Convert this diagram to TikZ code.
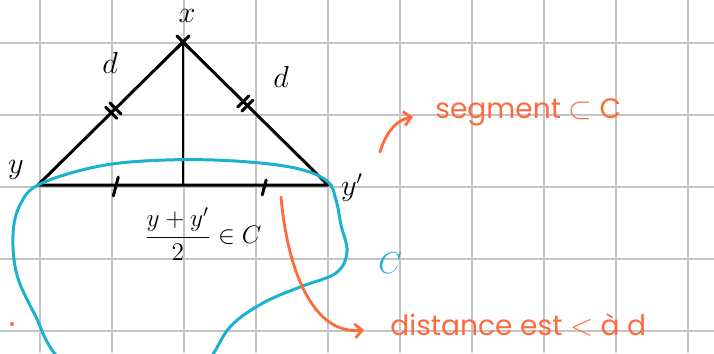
\documentclass[tikz,border=0pt]{standalone}
\usepackage{fontspec}
\setmainfont{Poppins}
\usepackage{xcolor}
\usetikzlibrary{arrows.meta,calc}

\definecolor{gridgray}{HTML}{C4C4C4}
\definecolor{cblue}{HTML}{1BB1CF}
\definecolor{corange}{HTML}{FF6A3D}

\begin{document}
\begin{tikzpicture}[
    x=0.02cm, y=-0.02cm,
    gridline/.style={draw=gridgray, line width=1.1pt},
    pen/.style={line width=1.7pt, line cap=round, line join=round},
    bluepen/.style={draw=cblue, line width=1.7pt},
    redpen/.style={draw=corange, line width=1.6pt, line cap=round},
    arrow/.style={redpen, -{Straight Barb[length=4pt, width=8pt]}},
    lbl/.style={inner sep=0, font=\fontsize{16}{18}\selectfont},
    note/.style={lbl, text=corange, anchor=west}
]
    \clip (0,0) rectangle (714,353);
    \fill[white] (0,0) rectangle (714,353);
    \foreach \gx in {40,112,...,688} \draw[gridline] (\gx,0) -- (\gx,353);
    \foreach \gy in {43,115,...,331} \draw[gridline] (0,\gy) -- (714,\gy);

    % triangle
    \coordinate (x) at (183,42);
    \coordinate (y) at (38,185);
    \coordinate (yp) at (328,185);
    \coordinate (m) at (183,185);
    \draw[pen] (y) -- (x) -- (yp) -- cycle;
    \draw[pen] (x) -- (m);
    \draw[pen] ($(x)+(-6,-6)$) -- ($(x)+(6,6)$);
    \draw[pen] ($(x)+(-6,6)$) -- ($(x)+(6,-6)$);

    % equal marks
    \path (y) -- (x) coordinate[pos=0.52] (dl);
    \path (x) -- (yp) coordinate[pos=0.43] (dr);
    \draw[pen] ($(dl)+(-7.6,-3.4)$) -- ($(dl)+(3.4,7.6)$);
    \draw[pen] ($(dl)+(-3.4,-7.6)$) -- ($(dl)+(7.6,3.4)$);
    \draw[pen] ($(dr)+(-7.6,3.4)$) -- ($(dr)+(3.4,-7.6)$);
    \draw[pen] ($(dr)+(-3.4,7.6)$) -- ($(dr)+(7.6,-3.4)$);
    \path (y) -- (yp) coordinate[pos=0.27] (tl) coordinate[pos=0.78] (tr);
    \draw[pen] ($(tl)+(-3,11)$) -- ($(tl)+(2,-8)$);
    \draw[pen] ($(tr)+(-2,10)$) -- ($(tr)+(2,-5)$);

    % the set C
    \draw[bluepen] plot[smooth cycle, tension=0.6] coordinates {(40,184) (100,166) (165,160)
        (235,161) (295,168) (327,181) (336,200) (341,225) (347,252) (336,273) (300,287)
        (263,303) (230,327) (200,370) (130,420) (60,360) (35,315) (17,275) (13,235) (20,205)};

    \node[lbl] (xlab) at (187,16) {$x$};
    \node[lbl] (dleft) at (110,63) {$d$};
    \node[lbl] (dright) at (281,77) {$d$};
    \node[lbl] (ylab) at (16,170) {$y$};
    \node[lbl] (yplab) at (352,188) {$y'$};
    \node[lbl, font=\fontsize{14.4}{17}\selectfont] (mid) at (203,234) {$\displaystyle\frac{y+y'}{2}\in C$};
    \node[lbl, text=cblue] (clab) at (390,263) {$C$};

    \node[note] (seg) at (435,112) {segment $\subset$ C};
    \node[note] (dist) at (390,325) {distance est $<$ à d};

    \coordinate (s1) at (380,152);
    \coordinate (d1) at (281,197);
    \draw[arrow] (s1) .. controls (385,135) and (395,120) .. ($(seg.west)+(-22,5)$);
    \draw[arrow] (d1) .. controls (288,275) and (315,335) .. ($(dist.west)+(-26,5)$);
    \fill[corange] (12,324) circle (2);
\end{tikzpicture}
\end{document}
